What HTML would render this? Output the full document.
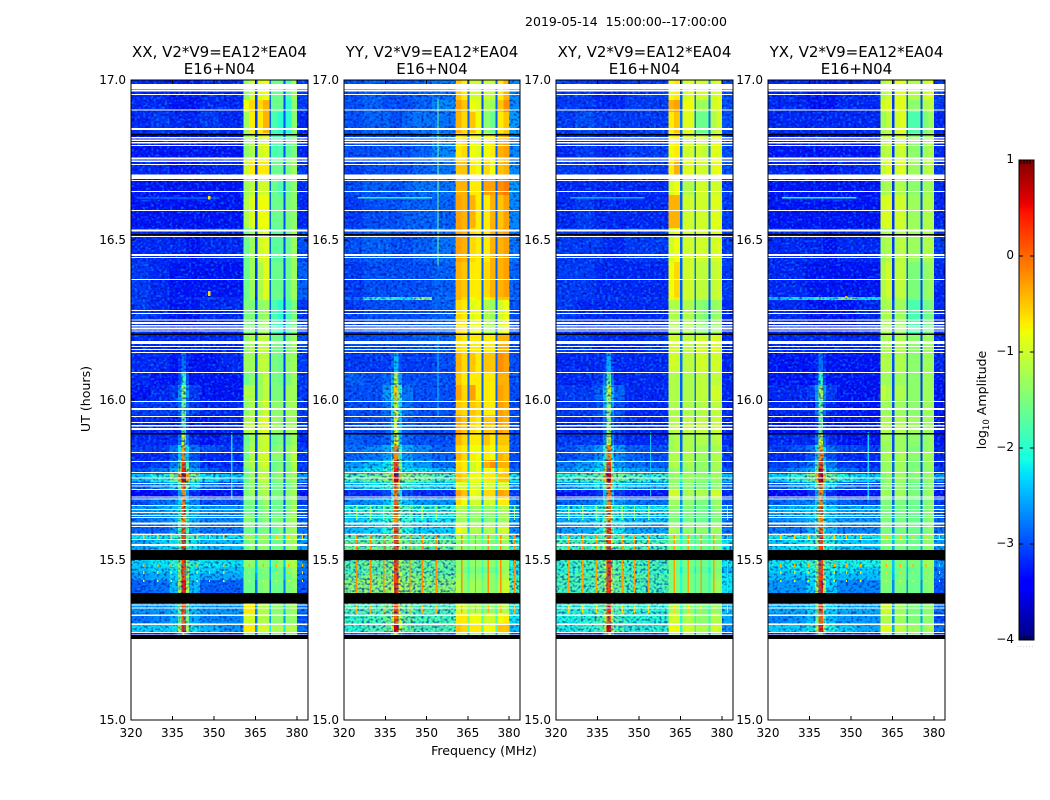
<!DOCTYPE html>
<html lang="en">
<head>
<meta charset="utf-8">
<title>2019-05-14 dynamic spectra</title>
<style>
html,body{margin:0;padding:0;background:#fff;width:1050px;height:800px;overflow:hidden}
svg{display:block}
text{font-family:"DejaVu Sans","Liberation Sans",sans-serif;fill:#000}
.tick{font-size:12px}
.ttl{font-size:15px;text-anchor:middle}
.lab{font-size:12.6px;text-anchor:middle}
</style>
</head>
<body>
<svg id="figure" xmlns="http://www.w3.org/2000/svg" width="1050" height="800" viewBox="0 0 1050 800">
  <defs>
    <filter id="speckle-light" x="0" y="0" width="100%" height="100%" color-interpolation-filters="sRGB">
      <feTurbulence type="fractalNoise" baseFrequency="0.37 0.42" numOctaves="1" seed="4"/>
      <feColorMatrix type="matrix" values="0 0 0 0 0  0 0 0 0 0.62  0 0 0 0 1  4.5 0 0 0 -2.2"/>
    </filter>
    <filter id="speckle-dark" x="0" y="0" width="100%" height="100%" color-interpolation-filters="sRGB">
      <feTurbulence type="fractalNoise" baseFrequency="0.37 0.42" numOctaves="1" seed="11"/>
      <feColorMatrix type="matrix" values="0 0 0 0 0  0 0 0 0 0  0 0 0 0 0.55  4.5 0 0 0 -2.2"/>
    </filter>
  </defs>
  <text x="626" y="26" font-size="12.5" text-anchor="middle" xml:space="preserve">2019-05-14  15:00:00--17:00:00</text>
  <text class="lab" transform="translate(90,399) rotate(-90)">UT (hours)</text>
  <text class="lab" x="484" y="755">Frequency (MHz)</text>
  <g id="panels"></g>
  <g id="colorbar"></g>
  <text class="lab" transform="translate(986,400) rotate(-90)">log<tspan font-size="8.5" dy="3">10</tspan><tspan dy="-3"> Amplitude</tspan></text>
  <text x="1017" y="647" font-size="6" style="fill:#aaa;letter-spacing:1px">......</text>
</svg>
<script>
// Heatmap levels: level = 10 * (log10 amplitude + 4)
const freqEdges = [320,327,334,337,338.2,339.8,341,345,352,360.6,362.7,364.9,365.65,367.8,370,370.7,373,375.1,375.8,378,380.1,384];
const timeEdges = [17,16.9375,16.9,16.834,16.75,16.7,16.641,16.5375,16.431,16.322,16.3125,16.203,16.15,16.0875,16.047,16,15.953,15.894,15.859,15.8375,15.8125,15.7875,15.769,15.744,15.719,15.694,15.672,15.641,15.616,15.584,15.566,15.5,15.478,15.459,15.4375,15.366,15.334,15.303,15.275,15.266];

const xxGrid = [
[8,8,7,7,7,7,7,8,8,26,30,9,31,32,12,24,24,10,22,27,9],
[8,8,7,7,7,7,7,8,8,32,34,9,34,36,11,24,24,10,20,26,9],
[8,9,8,8,8,8,8,9,8,27,33,9,33,36,11,22,20,10,20,26,8],
[7,7,7,7,7,7,7,7,7,26,28,9,30,31,12,22,22,10,23,25,8],
[8,8,7,7,7,7,7,8,8,30,33,9,33,33,11,24,24,11,25,27,9],
[7,7,7,7,7,7,7,7,7,27,29,9,30,30,11,24,22,10,24,26,8],
[7,7,7,7,7,7,7,7,7,28,31,9,32,32,11,24,24,10,25,26,8],
[8,8,8,8,8,7,7,8,8,24,27,9,30,31,11,23,23,10,24,27,10],
[9,8,7,7,7,7,7,7,7,24,27,9,28,31,11,24,24,10,24,27,11],
[9,8,8,8,8,8,8,9,8,24,27,8,28,31,11,24,24,9,24,27,11],
[9,8,7,7,7,7,7,8,8,25,25,10,26,27,11,22,20,9,22,25,9],
[8,8,8,8,8,8,8,8,8,26,28,11,29,29,12,25,24,10,25,27,10],
[8,8,7,8,12,8,7,7,8,27,27,10,29,29,11,25,24,9,26,27,9],
[8,7,7,10,20,10,7,7,7,24,26,10,27,29,11,25,24,9,25,27,9],
[7,8,9,14,26,14,9,7,7,28,28,10,27,29,10,25,25,9,27,27,9],
[9,9,9,12,24,12,9,8,8,26,28,10,28,30,11,26,26,10,27,27,9],
[8,8,7,9,22,9,7,7,8,28,29,10,30,31,11,27,26,10,27,27,9],
[8,8,8,12,30,12,8,7,8,24,27,10,29,30,11,24,25,9,25,27,8],
[9,9,12,18,36,18,12,10,9,25,28,10,29,30,11,25,26,9,26,28,9],
[8,8,10,16,38,16,10,8,8,24,28,10,30,30,10,26,26,9,26,29,9],
[8,9,12,22,42,22,12,8,8,26,28,11,29,30,10,24,25,10,25,28,9],
[10,12,15,26,44,26,15,11,9,24,27,11,28,29,10,24,26,10,25,28,9],
[16,19,25,36,47,36,25,18,16,24,27,11,29,29,12,25,26,11,26,27,14],
[11,14,17,24,40,24,17,12,10,24,26,11,27,28,11,24,24,10,24,26,9],
[6,6,8,14,38,14,8,6,7,25,27,10,27,28,10,25,25,10,26,27,7],
[10,12,13,17,38,17,13,10,10,24,25,11,25,27,11,24,24,10,25,27,9],
[14,15,16,20,40,20,16,14,14,24,24,12,24,26,12,24,24,12,25,27,11],
[12,13,15,22,38,22,15,13,13,26,25,13,24,26,13,25,25,13,26,27,11],
[11,11,14,22,40,22,14,12,12,24,24,13,24,25,12,23,25,13,26,27,12],
[18,18,20,24,42,24,20,18,18,26,26,18,26,26,16,24,26,16,27,28,16],
[15,17,18,24,42,24,18,16,16,24,26,14,26,26,14,24,24,14,26,27,14],
[17,18,20,26,42,26,20,18,18,26,26,16,26,26,16,24,26,16,28,28,14],
[16,17,18,26,42,26,18,17,16,24,24,16,24,25,14,22,24,14,25,27,12],
[14,15,17,26,42,26,17,15,15,24,24,14,24,25,14,24,24,14,24,26,12],
[11,12,16,28,44,28,16,11,11,24,24,12,25,26,12,24,24,12,25,26,10],
[14,14,16,24,42,24,16,14,14,33,33,13,28,28,16,26,26,16,26,27,12],
[12,13,15,24,40,24,15,13,13,30,30,12,28,28,14,26,26,14,26,26,10],
[17,17,18,28,44,28,18,16,14,33,33,14,30,30,18,28,28,18,28,28,12],
[8,8,8,14,30,14,8,8,8,24,24,10,24,24,10,24,24,10,24,24,8]
];

const yyGrid = [
[10,11,10,10,10,10,10,11,12,35,33,12,30,30,10,30,29,11,33,36,13],
[10,11,10,10,10,10,10,11,13,37,35,11,32,31,10,28,27,11,35,38,13],
[10,11,11,10,10,10,11,12,12,36,34,11,35,32,11,26,24,11,33,35,14],
[10,10,10,10,10,10,10,11,13,33,34,11,32,31,11,32,33,11,36,37,13],
[9,10,10,10,10,10,10,11,12,35,35,11,33,32,11,34,32,11,35,36,13],
[10,11,11,10,10,10,11,12,12,36,36,11,33,33,11,37,37,11,38,39,14],
[9,10,10,10,10,10,11,11,11,37,36,11,36,33,11,33,36,11,35,37,13],
[10,11,11,10,10,10,10,11,12,37,36,11,34,33,11,33,36,11,36,37,12],
[9,10,10,10,10,10,10,10,11,36,35,11,33,33,11,34,36,11,36,37,11],
[12,20,20,20,20,18,18,26,12,36,34,11,32,33,11,32,34,11,35,35,12],
[9,10,10,10,10,10,10,10,11,34,33,11,31,32,11,28,27,11,30,32,10],
[10,10,10,10,10,10,10,11,11,34,33,12,33,33,11,33,33,11,36,36,10],
[9,9,9,11,16,10,9,9,10,36,34,11,35,33,11,35,35,11,38,37,10],
[11,10,11,15,28,14,10,10,10,35,33,11,33,33,11,33,33,11,36,36,10],
[10,10,14,20,34,20,12,10,10,37,34,11,37,33,11,33,33,11,37,36,10],
[10,10,12,18,30,18,12,10,10,35,34,11,35,34,11,33,33,11,37,36,10],
[10,10,11,16,30,16,11,10,10,37,35,11,34,33,11,35,35,11,37,36,10],
[11,10,11,16,32,16,11,10,10,36,34,12,33,33,12,35,33,12,35,35,10],
[12,13,15,22,38,22,15,13,11,34,33,14,32,32,14,33,32,14,34,34,10],
[11,12,14,20,38,20,14,12,11,36,34,14,33,32,14,33,32,14,36,35,10],
[14,16,18,26,42,26,16,14,12,34,33,16,30,32,14,36,38,14,36,36,10],
[16,18,20,28,44,28,18,18,16,34,33,16,30,32,16,32,32,16,33,34,12],
[22,24,26,36,47,36,26,24,22,35,34,22,32,32,22,33,33,22,35,35,18],
[16,18,20,26,40,26,20,18,17,30,30,18,30,30,16,30,30,16,30,30,14],
[8,8,10,18,40,18,10,8,8,37,35,14,32,31,14,34,34,14,37,36,9],
[13,14,16,20,40,20,16,14,14,34,32,15,30,30,14,30,30,15,33,33,12],
[19,20,22,25,40,25,22,20,20,28,28,18,26,27,18,26,26,18,28,28,16],
[17,18,20,25,38,25,20,18,18,27,27,17,26,26,16,25,26,16,27,27,14],
[16,17,19,26,42,26,19,17,17,32,30,16,28,28,16,28,28,16,30,30,13],
[22,23,24,28,40,28,24,22,22,28,27,20,26,26,20,26,26,20,28,28,18],
[24,24,25,29,42,29,24,24,24,26,26,22,26,26,22,25,25,22,26,27,20],
[23,24,25,28,42,28,25,24,24,26,26,22,26,26,22,26,26,22,27,27,20],
[22,23,25,28,42,28,25,23,23,26,25,20,25,25,20,24,24,20,26,27,18],
[24,25,26,30,42,30,25,25,24,27,26,22,26,26,22,26,26,22,27,28,20],
[26,26,27,30,42,30,27,26,26,28,26,24,27,27,24,26,26,24,28,30,22],
[22,22,24,28,42,28,24,22,22,30,30,24,28,28,22,26,26,22,28,28,18],
[21,22,24,30,40,30,24,22,22,33,33,24,32,32,22,30,30,22,32,33,18],
[20,22,24,32,46,32,24,22,22,35,34,22,33,33,22,32,32,22,35,35,16],
[12,12,12,18,30,18,12,12,12,28,28,14,28,28,14,26,26,14,26,26,10]
];

const xyGrid = [
[9,9,8,8,8,8,8,9,9,32,33,11,30,31,12,30,30,13,30,31,10],
[9,9,8,8,8,8,8,9,9,36,37,11,32,32,12,27,27,12,30,31,10],
[9,10,9,9,9,9,9,9,9,33,35,12,31,31,12,24,24,12,28,30,10],
[8,9,8,8,8,8,8,9,9,32,33,11,30,30,12,30,29,12,31,31,10],
[9,9,8,8,8,8,8,9,9,33,36,11,31,31,12,30,30,12,31,32,10],
[8,8,8,8,8,8,8,8,8,30,32,11,28,28,12,30,30,12,30,30,9],
[8,9,8,8,8,8,8,8,8,36,36,11,30,30,12,30,30,12,31,31,9],
[9,9,9,8,8,8,8,9,9,30,32,11,30,30,12,30,30,11,30,31,9],
[9,9,8,8,8,8,8,8,8,32,34,11,30,30,12,29,29,11,29,30,9],
[9,9,9,9,9,9,9,9,9,32,33,11,30,30,12,29,29,11,29,30,9],
[9,8,8,8,8,8,8,8,8,28,28,11,28,28,12,26,25,10,26,27,8],
[9,9,8,8,8,8,8,8,9,30,30,12,29,29,12,30,30,11,31,30,8],
[8,8,8,9,15,9,8,8,8,30,30,12,29,29,12,30,30,11,30,30,8],
[8,8,9,12,24,12,8,8,8,28,28,11,28,28,12,29,29,10,29,29,8],
[9,9,11,16,30,16,11,8,8,28,28,11,28,28,12,29,29,10,30,30,8],
[9,9,10,15,26,15,10,8,8,28,28,11,28,28,12,28,29,10,29,29,8],
[8,8,9,12,26,12,9,8,8,28,29,11,29,29,12,29,29,10,29,30,8],
[9,9,9,13,30,13,9,8,8,27,28,11,28,28,11,28,28,10,28,29,8],
[10,12,14,20,38,20,14,11,10,27,28,11,28,28,11,27,27,11,27,28,9],
[10,11,13,18,38,18,13,11,10,28,28,12,28,28,11,27,27,11,28,28,9],
[12,14,16,24,42,24,14,12,11,28,28,13,27,28,12,26,27,12,27,28,9],
[14,16,18,26,44,26,17,15,14,26,27,14,26,27,13,26,26,13,27,27,10],
[20,22,24,35,47,35,24,22,20,26,27,20,27,27,20,26,26,20,27,27,16],
[14,16,18,24,40,24,18,16,15,26,26,16,26,26,15,25,25,15,25,26,12],
[7,7,9,16,40,16,9,7,7,30,30,12,27,28,12,28,28,12,30,30,8],
[11,12,14,18,38,18,14,12,12,27,27,13,26,26,13,25,25,13,26,27,10],
[17,18,20,24,40,24,20,18,18,26,26,15,25,25,15,24,24,15,25,26,13],
[15,16,18,24,38,24,18,16,16,25,25,15,24,25,14,24,24,14,25,25,12],
[14,15,18,25,42,25,18,15,15,28,27,14,26,26,14,26,26,14,27,27,12],
[20,21,22,26,40,26,22,20,20,26,26,18,24,24,18,24,24,18,26,26,16],
[22,22,23,28,42,28,23,22,22,25,25,20,24,24,20,24,24,20,25,25,18],
[21,22,23,27,42,27,23,22,22,25,25,20,25,25,20,24,24,20,25,26,18],
[20,21,23,27,42,27,23,21,21,25,24,18,24,24,18,23,23,18,25,25,16],
[22,23,24,28,42,28,24,23,22,25,25,20,25,25,20,24,24,20,25,26,18],
[22,22,24,28,42,28,24,22,22,25,25,20,25,25,20,24,24,20,26,27,18],
[20,20,22,26,42,26,22,20,20,28,28,20,26,26,20,25,25,20,26,26,16],
[19,20,22,28,40,28,22,20,20,30,30,20,28,28,20,26,26,20,28,28,15],
[19,20,22,30,46,30,22,20,20,32,32,20,30,30,20,28,28,20,30,30,14],
[10,10,10,16,30,16,10,10,10,26,26,12,26,26,12,24,24,12,24,24,9]
];

const yxGrid = [
[8,8,7,7,7,7,7,8,8,28,30,9,31,31,11,28,28,10,30,31,9],
[8,8,7,7,7,7,7,8,8,30,31,9,31,31,11,26,26,10,28,29,9],
[8,8,8,8,8,8,8,8,8,27,29,9,30,31,11,22,22,10,25,27,8],
[7,7,7,7,7,7,7,7,7,28,29,9,29,30,11,26,26,10,27,28,8],
[8,8,7,7,7,7,7,8,8,29,31,9,30,31,11,27,27,10,28,29,9],
[7,7,7,7,7,7,7,7,7,27,28,9,28,28,11,26,26,10,27,27,8],
[7,7,7,7,7,7,7,7,7,30,31,9,30,30,11,27,27,10,28,28,8],
[8,8,8,8,8,7,7,8,8,27,28,9,28,29,11,27,27,10,28,28,9],
[8,8,7,7,7,7,7,7,7,28,30,9,29,29,11,25,25,10,26,27,8],
[16,18,18,20,22,20,18,24,18,28,29,9,28,28,11,25,25,10,26,27,8],
[8,8,7,7,7,7,7,7,8,27,28,10,27,27,11,22,22,9,24,25,8],
[8,8,8,8,8,8,8,8,8,27,28,10,28,28,11,26,26,9,27,27,8],
[7,7,7,8,12,8,7,7,7,28,28,10,28,28,11,26,26,9,27,27,8],
[7,7,7,9,20,9,7,7,7,27,27,10,27,27,11,26,26,9,27,27,7],
[8,8,9,14,28,14,9,7,7,29,28,10,28,28,11,26,26,9,27,27,7],
[8,8,8,12,24,12,8,7,7,27,27,10,27,27,11,26,26,9,27,27,7],
[7,7,7,9,24,9,7,7,7,28,28,10,28,28,11,27,27,9,27,27,7],
[8,8,8,12,30,12,8,7,7,27,27,10,27,27,10,26,26,9,26,27,7],
[9,10,12,18,36,18,12,10,9,26,27,10,27,27,10,25,25,9,26,27,8],
[8,8,10,16,38,16,10,8,8,27,28,10,27,28,10,26,26,9,27,27,8],
[9,10,12,22,42,22,12,9,8,26,27,11,27,27,10,25,25,10,26,27,8],
[11,13,15,26,44,26,15,12,10,26,27,11,27,27,10,25,26,10,26,27,9],
[17,20,25,36,47,36,25,19,17,25,27,13,27,27,13,25,26,12,26,27,14],
[11,14,17,24,40,24,17,12,10,25,26,11,26,26,11,24,24,10,25,26,9],
[6,6,8,14,38,14,8,6,7,27,27,10,27,27,10,25,25,10,26,27,7],
[11,12,13,17,38,17,13,11,10,25,25,11,25,25,11,24,24,10,25,26,9],
[15,16,17,21,40,21,17,15,15,25,25,13,24,25,13,24,24,12,25,26,11],
[13,14,16,22,38,22,16,14,14,25,25,13,24,25,13,24,24,13,25,26,11],
[12,12,15,22,40,22,15,13,13,25,25,13,24,25,12,24,24,13,25,26,12],
[18,19,20,24,42,24,20,18,18,26,26,18,25,25,16,24,24,16,26,27,16],
[17,18,19,25,42,25,19,17,17,25,25,15,25,25,15,24,24,15,26,26,14],
[18,19,21,26,42,26,21,19,19,26,26,16,25,25,16,25,25,16,27,27,14],
[17,18,19,26,42,26,19,18,17,25,25,16,24,25,15,23,24,15,25,26,12],
[16,16,18,26,42,26,18,16,16,25,25,15,24,25,15,24,24,15,25,26,12],
[14,14,17,28,44,28,17,13,13,25,25,13,25,25,13,24,24,13,25,26,10],
[15,15,17,24,42,24,17,15,15,30,30,14,27,27,16,25,25,16,26,26,12],
[13,14,16,24,40,24,16,14,14,28,28,13,27,27,14,25,25,14,26,26,10],
[17,17,19,28,44,28,19,17,15,31,31,15,29,29,18,27,27,18,27,28,12],
[8,8,8,14,30,14,8,8,8,24,24,10,24,24,10,24,24,10,24,24,8]
];

// Narrowband interference comb: channel frequencies (MHz)
const combFreqs = [324.6,329.7,334.5,344,348.4,353.5,362.8,367.8,372.5,377,382];
// Comb activity: [start UT, end UT, level]
const xxComb = [[15.578,15.566,34],[15.4875,15.478,36],[15.466,15.456,34],[15.4375,15.431,32]];
const yyComb = [[15.672,15.625,26],[15.578,15.531,38],[15.5,15.397,38],[15.359,15.334,36]];
const xyComb = [[15.672,15.625,25],[15.578,15.531,37],[15.5,15.397,37],[15.359,15.334,34]];
const yxComb = [[15.578,15.566,34],[15.4875,15.478,36],[15.466,15.456,34],[15.4375,15.431,32]];

// Individual RFI streaks: [start MHz, end MHz, start UT, end UT, level]
const xxStreaks = [[322,352,16.633,16.63,13],[347.9,348.7,16.34,16.325,34],[347.9,348.7,16.637,16.627,33],[356.1,356.7,15.9,15.69,17]];
const yyStreaks = [[325,352,16.634,16.629,19],[354,354.4,16.94,16.42,24],[354,354.4,16.2,15.95,16]];
const xyStreaks = [[325,352,16.634,16.629,15],[354,354.4,15.9,15.7,16]];
const yxStreaks = [[325,352,16.634,16.629,19],[355.9,356.5,15.9,15.69,17],[347.9,348.7,16.325,16.318,36]];

// Flagged integrations, white (no data): [start UT, end UT]
const flaggedTimes = [[16.9875,16.970],[16.969,16.964],[16.956,16.953],[16.908,16.905],[16.85,16.844],[16.822,16.817],[16.814,16.809],[16.806,16.802],[16.797,16.794],[16.758,16.752],[16.748,16.744],[16.7375,16.734],[16.705,16.691],[16.6875,16.684],[16.653,16.65],[16.594,16.591],[16.533,16.527],[16.5125,16.509],[16.456,16.45],[16.447,16.444],[16.378,16.375],[16.281,16.278],[16.272,16.269],[16.252,16.248],[16.244,16.2375],[16.234,16.23],[16.227,16.22],[16.217,16.214],[16.184,16.175],[16.169,16.166],[16.159,16.156],[16.15,16.147],[16.0875,16.084],[15.997,15.994],[15.975,15.969],[15.95,15.947],[15.931,15.928],[15.922,15.917],[15.9125,15.906],[15.8375,15.834],[15.809,15.806],[15.775,15.772],[15.758,15.755],[15.741,15.7375],[15.733,15.73],[15.722,15.719],[15.698,15.695],[15.692,15.689],[15.672,15.669],[15.659,15.656],[15.65,15.647],[15.641,15.6375],[15.634,15.631],[15.617,15.611],[15.606,15.603],[15.581,15.578],[15.566,15.5625],[15.55,15.544],[15.361,15.358],[15.352,15.348],[15.33,15.325],[15.302,15.297],[15.275,15.272],[15.267,15.266]];
// Scan boundaries, black: [start UT, end UT]
const scanGaps = [[16.831,16.827],[16.519,16.514],[16.208,16.203],[15.897,15.892],[15.531,15.5],[15.397,15.364],[15.266,15.253]];

const polarNames = ["XX","YY","XY","YX"];
const baselineTitle = "V2*V9=EA12*EA04";
const baselineSub = "E16+N04";
const freqTicks = [320,335,350,365,380];
const timeTicks = ["15.0","15.5","16.0","16.5","17.0"];
const cbarTicks = [1,0,-1,-2,-3,-4];
// Out-of-band frequency ranges carrying visible thermal speckle (MHz)
const noisyRanges = [[320,360.6],[380.1,384]];

const grids = [xxGrid,yyGrid,xyGrid,yxGrid];
const combs = [xxComb,yyComb,xyComb,yxComb];
const streaks = [xxStreaks,yyStreaks,xyStreaks,yxStreaks];
const panelBoxes = [{l:131,r:308},{l:344,r:520},{l:556,r:733},{l:768,r:945}];
const plotTop = 80, plotBottom = 720, freqMin = 320, freqMax = 384, timeMin = 15, timeMax = 17;
const NS = "http://www.w3.org/2000/svg";

function xScale(box,f){ return box.l + (f-freqMin)/(freqMax-freqMin)*(box.r-box.l); }
function yScale(t){ return plotBottom - (t-timeMin)/(timeMax-timeMin)*(plotBottom-plotTop); }
function clamp01(v){ return Math.max(0,Math.min(1,v)); }
function piece(f,stops){
  for(let i=1;i<stops.length;i++){
    if(f<=stops[i][0]){
      const a=stops[i-1],b=stops[i];
      return a[1]+(b[1]-a[1])*(f-a[0])/(b[0]-a[0]);
    }
  }
  return stops[stops.length-1][1];
}
function jet(f){
  f=clamp01(f);
  const r=piece(f,[[0,0],[0.35,0],[0.66,1],[0.89,1],[1,0.5]]);
  const g=piece(f,[[0,0],[0.125,0],[0.375,1],[0.64,1],[0.91,0],[1,0]]);
  const b=piece(f,[[0,0.5],[0.11,1],[0.34,1],[0.65,0],[1,0]]);
  return "rgb("+Math.round(r*255)+","+Math.round(g*255)+","+Math.round(b*255)+")";
}
function levelColor(level){ return jet(level/50); }
function svgEl(tag,parent){
  const el=document.createElementNS(NS,tag);
  parent.appendChild(el);
  return el;
}
function placeRect(el,x0,y0,x1,y1,fill){
  el.setAttribute("x",x0);
  el.setAttribute("y",y0);
  el.setAttribute("width",Math.max(x1-x0,1));
  el.setAttribute("height",Math.max(y1-y0,1));
  el.setAttribute("fill",fill);
  el.setAttribute("shape-rendering","crispEdges");
}
function drawLine(parent,x1,y1,x2,y2){
  const ln=svgEl("line",parent);
  ln.setAttribute("x1",x1);
  ln.setAttribute("y1",y1);
  ln.setAttribute("x2",x2);
  ln.setAttribute("y2",y2);
  ln.setAttribute("stroke","#000");
  ln.setAttribute("stroke-width","1");
  ln.setAttribute("shape-rendering","crispEdges");
  return ln;
}

const panelsRoot=document.getElementById("panels");
polarNames.forEach(function(pol,p){
  const box=panelBoxes[p];
  const grid=grids[p];
  const g=svgEl("g",panelsRoot);
  
  

  grid.forEach(function(row,ri){
    row.forEach(function(level,ci){
      const cell=svgEl("rect",g);
      
      
      placeRect(cell,xScale(box,freqEdges[ci]),yScale(timeEdges[ri]),xScale(box,freqEdges[ci+1]),yScale(timeEdges[ri+1]),levelColor(level));
    });
  });

  noisyRanges.forEach(function(range){
    ["speckle-light","speckle-dark"].forEach(function(fid){
      const tex=svgEl("rect",g);
      
      
      tex.setAttribute("x",xScale(box,range[0]));
      tex.setAttribute("y",yScale(timeEdges[0]));
      tex.setAttribute("width",xScale(box,range[1])-xScale(box,range[0]));
      tex.setAttribute("height",yScale(timeEdges[timeEdges.length-1])-yScale(timeEdges[0]));
      tex.setAttribute("filter","url(#"+fid+")");
      tex.setAttribute("opacity","0.55");
    });
  });

  combs[p].forEach(function(band){
    combFreqs.forEach(function(f){
      const spike=svgEl("rect",g);
      
      
      placeRect(spike,xScale(box,f-0.25),yScale(band[0]),xScale(box,f+0.25),yScale(band[1]),levelColor(band[2]));
    });
  });

  streaks[p].forEach(function(s){
    const streak=svgEl("rect",g);
    
    
    placeRect(streak,xScale(box,s[0]),yScale(s[2]),xScale(box,s[1]),yScale(s[3]),levelColor(s[4]));
  });

  flaggedTimes.forEach(function(gap){
    const flag=svgEl("rect",g);
    
    
    placeRect(flag,box.l,yScale(gap[0]),box.r,yScale(gap[1]),"#fff");
  });

  scanGaps.forEach(function(gap){
    const sg=svgEl("rect",g);
    
    
    placeRect(sg,box.l,yScale(gap[0]),box.r,yScale(gap[1]),"#000");
  });

  const frame=svgEl("rect",g);
  
  
  frame.setAttribute("x",box.l);
  frame.setAttribute("y",plotTop);
  frame.setAttribute("width",box.r-box.l);
  frame.setAttribute("height",plotBottom-plotTop);
  frame.setAttribute("fill","none");
  frame.setAttribute("stroke","#000");
  frame.setAttribute("stroke-width","1");
  frame.setAttribute("shape-rendering","crispEdges");

  freqTicks.forEach(function(f){
    const x=xScale(box,f);
    const tb=drawLine(g,x,plotBottom,x,plotBottom-4);
    
    
    const tt=drawLine(g,x,plotTop,x,plotTop+4);
    
    
    const lab=svgEl("text",g);
    
    
    lab.setAttribute("class","tick");
    lab.setAttribute("x",x);
    lab.setAttribute("y",plotBottom+17);
    lab.setAttribute("text-anchor","middle");
    lab.textContent=String(f);
  });

  timeTicks.forEach(function(label){
    const y=yScale(Number(label));
    const tl=drawLine(g,box.l,y,box.l+4,y);
    
    
    const tr=drawLine(g,box.r,y,box.r-4,y);
    
    
    const lab=svgEl("text",g);
    
    
    lab.setAttribute("class","tick");
    lab.setAttribute("x",box.l-5);
    lab.setAttribute("y",y+4);
    lab.setAttribute("text-anchor","end");
    lab.textContent=label;
  });

  const cx=(box.l+box.r)/2;
  const t1=svgEl("text",g);
  
  
  t1.setAttribute("class","ttl");
  t1.setAttribute("x",cx);
  t1.setAttribute("y",57);
  t1.textContent=pol+", "+baselineTitle;
  const t2=svgEl("text",g);
  
  
  t2.setAttribute("class","ttl");
  t2.setAttribute("x",cx);
  t2.setAttribute("y",74);
  t2.textContent=baselineSub;
});

// Colorbar
const cb=document.getElementById("colorbar");
const cbL=1019,cbR=1034,cbT=160,cbB=640;
function cbY(v){ return cbB-(v+4)/5*(cbB-cbT); }
for(let i=0;i<240;i++){
  const v0=-4+5*i/240, v1=-4+5*(i+1)/240;
  const seg=svgEl("rect",cb);
  
  
  placeRect(seg,cbL,cbY(v1),cbR,cbY(v0),jet((i+0.5)/240));
}
const cbFrame=svgEl("rect",cb);


cbFrame.setAttribute("x",cbL);
cbFrame.setAttribute("y",cbT);
cbFrame.setAttribute("width",cbR-cbL);
cbFrame.setAttribute("height",cbB-cbT);
cbFrame.setAttribute("fill","none");
cbFrame.setAttribute("stroke","#000");
cbFrame.setAttribute("shape-rendering","crispEdges");
cbarTicks.forEach(function(v){
  const y=cbY(v);
  const l=drawLine(cb,cbL,y,cbL+4,y);
  
  
  const r=drawLine(cb,cbR,y,cbR-4,y);
  
  
  const lab=svgEl("text",cb);
  
  
  lab.setAttribute("class","tick");
  lab.setAttribute("x",cbL-5);
  lab.setAttribute("y",y+3);
  lab.setAttribute("text-anchor","end");
  lab.textContent=(v<0?"\u2212":"")+Math.abs(v);
});
[2,5,8,11].forEach(function(dx){
  const top=drawLine(cb,cbL+dx,cbT,cbL+dx,cbT+4);
  
  
  const bot=drawLine(cb,cbL+dx,cbB,cbL+dx,cbB-4);
  
  
});
</script>
</body>
</html>
